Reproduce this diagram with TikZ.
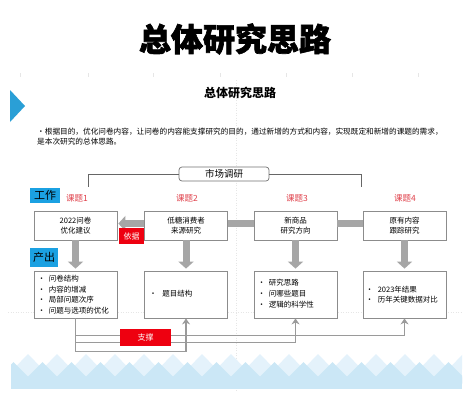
\documentclass[tikz,border=0pt]{standalone}
\usepackage{fontspec}
\setmainfont{Noto Sans CJK SC}
\newfontfamily\heavyfont{Noto Sans CJK SC}[BoldFeatures={FakeBold=2}]
\usetikzlibrary{arrows.meta,calc}
\definecolor{boxline}{HTML}{8C8C8C}
\definecolor{band}{HTML}{A6A6A6}
\definecolor{tagblue}{HTML}{1BA1E2}
\definecolor{triblue}{HTML}{2A9FD6}
\definecolor{tagred}{HTML}{EE0010}
\definecolor{txtred}{HTML}{E0404A}
\definecolor{diaA}{HTML}{E4F2FB}
\definecolor{diaB}{HTML}{CBE7F6}
\definecolor{guide}{HTML}{E6E6E6}
\definecolor{connc}{HTML}{9A9A9A}
\newcommand\myfs[2]{\fontsize{#1}{#2}\selectfont}
\begin{document}
\begin{tikzpicture}[x=1pt,y=-1pt,
  stepbox/.style={draw=boxline, line width=0.8pt, fill=white, minimum width=83pt, minimum height=29pt, inner sep=0pt, align=center, font=\myfs{7.5pt}{9.5pt}},
  outbox/.style={draw=boxline, line width=0.8pt, fill=white, minimum width=83pt, minimum height=47pt, inner sep=0pt},
  blist/.style={anchor=west, inner sep=0pt, align=left, font=\myfs{7.5pt}{10.7pt}},
  tagb/.style={fill=tagblue, inner sep=0pt, font=\myfs{11pt}{11pt}, text=black},
  tagr/.style={fill=tagred, text=white, inner sep=0pt, font=\myfs{8pt}{8pt}},
  ttl/.style={text=txtred, font=\myfs{8.5pt}{8.5pt}, inner sep=0pt},
  thickband/.style={draw=band, line width=7pt},
  thickarr/.style={thickband, -{Triangle[width=15pt,length=7pt]}},
  conn/.style={draw=connc, line width=1.4pt},
  connarr/.style={conn, -{Stealth[width=8pt,length=6pt]}},
  thinline/.style={draw=black!60, line width=0.7pt},
  guideline/.style={draw=guide, line width=0.5pt, dotted}
]
\useasboundingbox (0,0) rectangle (470,400);
\fill[white] (0,0) rectangle (470,400);

% faint guides
\draw[guideline] (236,80) -- (236,392);
\draw[guideline] (8,312) -- (462,312);
\foreach \gx in {20,88,153,220,286,352,418} \draw[draw=guide, line width=0.6pt] (\gx,73) -- (\gx,77);

% bottom diamond band
\begin{scope}
\clip (11,353) rectangle (462,389);
\fill[diaA] (11,369) rectangle (462,389);
\foreach \k in {-1,...,16} {
  \fill[diaA] (28+29*\k,354) -- (42.5+29*\k,369) -- (13.5+29*\k,369) -- cycle;
}
\fill[diaB] (11,383) rectangle (462,389);
\foreach \k in {-1,...,16} {
  \fill[diaB] (13.5+29*\k,362) -- (35+29*\k,383.5) -- (-8+29*\k,383.5) -- cycle;
}
\end{scope}

% title
\node[font=\heavyfont\bfseries\myfs{32pt}{32pt}, inner sep=0pt] (title) at (235,39) {总体研究思路};
\fill[triblue] (10,90) -- (25,106) -- (10,122) -- cycle;
\node[font=\bfseries\myfs{12pt}{12pt}, inner sep=0pt] (sub) at (240,93) {总体研究思路};
\node[anchor=west, align=left, font=\myfs{7.65pt}{10pt}, inner sep=0pt] (para) at (37,137)
  {•根据目的，优化问卷内容，让问卷的内容能支撑研究的目的，通过新增的方式和内容，实现既定和新增的课题的需求，\\是本次研究的总体思路。};

% market research
\node[draw=black!55, rounded corners=3pt, line width=0.7pt, fill=white, minimum width=90pt, minimum height=14pt, inner sep=0pt, font=\myfs{9.5pt}{9.5pt}] (mk) at (224,174) {市场调研};
\coordinate (mkL) at (88,187);
\coordinate (mkR) at (361,187);
\draw[thinline] (mk.west) -| (mkL);
\draw[thinline] (mk.east) -| (mkR);

% tags
\node[tagb, minimum width=30pt, minimum height=15pt] (work) at (45,195.5) {工作};
\node[tagb, minimum width=28pt, minimum height=19pt] (out) at (44,257.5) {产出};
\node[ttl] (t1) at (77,198) {课题1};
\node[ttl] (t2) at (187,198) {课题2};
\node[ttl] (t3) at (297,198) {课题3};
\node[ttl] (t4) at (405,198) {课题4};

% step boxes
\node[stepbox] (b1) at (75.5,225.5) {2022问卷\\优化建议};
\node[stepbox] (b2) at (186,225.5) {低糖消费者\\来源研究};
\node[stepbox] (b3) at (295.5,225.5) {新商品\\研究方向};
\node[stepbox] (b4) at (404.5,225.5) {原有内容\\跟踪研究};

% output boxes
\node[outbox] (o1) at (75.5,294.5) {};
\node[outbox] (o2) at (186,294.5) {};
\node[outbox] (o3) at (295.5,294.5) {};
\node[outbox] (o4) at (404.5,294.5) {};

\node[blist] (l1) at ([xshift=4pt]o1.west) {\makebox[11pt][l]{•}问卷结构\\\makebox[11pt][l]{•}内容的增减\\\makebox[11pt][l]{•}局部问题次序\\\makebox[11pt][l]{•}问题与选项的优化};
\node[blist] (l2) at ([xshift=5pt,yshift=1pt]o2.west) {\makebox[13pt][l]{•}题目结构};
\node[blist] (l3) at ([xshift=4pt,yshift=1pt]o3.west) {\makebox[11pt][l]{•}研究思路\\\makebox[11pt][l]{•}问哪些题目\\\makebox[11pt][l]{•}逻辑的科学性};
\node[blist] (l4) at ([xshift=3pt]o4.west) {\makebox[12pt][l]{•}2023年结果\\\makebox[12pt][l]{•}历年关键数据对比};

% thick connectors
\draw[thickarr, shorten >=1pt] ([yshift=2pt]b2.west) -- ([yshift=2pt]b1.east);
\draw[thickband] ([yshift=2pt]b2.east) -- ([yshift=2pt]b3.west);
\draw[thickband] ([yshift=2pt]b3.east) -- ([yshift=2pt]b4.west);
\draw[thickarr, shorten >=2pt] (b1.south) -- (o1.north);
\draw[thickarr, shorten >=2pt] (b2.south) -- (o2.north);
\draw[thickarr, shorten >=2pt] (b3.south) -- (o3.north);
\draw[thickarr, shorten >=2pt] (b4.south) -- (o4.north);
\node[tagr, minimum width=25pt, minimum height=16pt] (yj) at (131.5,236) {依据};

% support connectors
\draw[connarr] (o1.south) -- ++(0,17) -| (o4.south);
\draw[connarr] (o1.south) -- ++(0,24) -| (o3.south);
\draw[connarr] (o1.south) -- ++(0,33) -| (o2.south);
\node[tagr, minimum width=51pt, minimum height=17pt] (zc) at (145.5,337.5) {支撑};
\end{tikzpicture}
\end{document}
